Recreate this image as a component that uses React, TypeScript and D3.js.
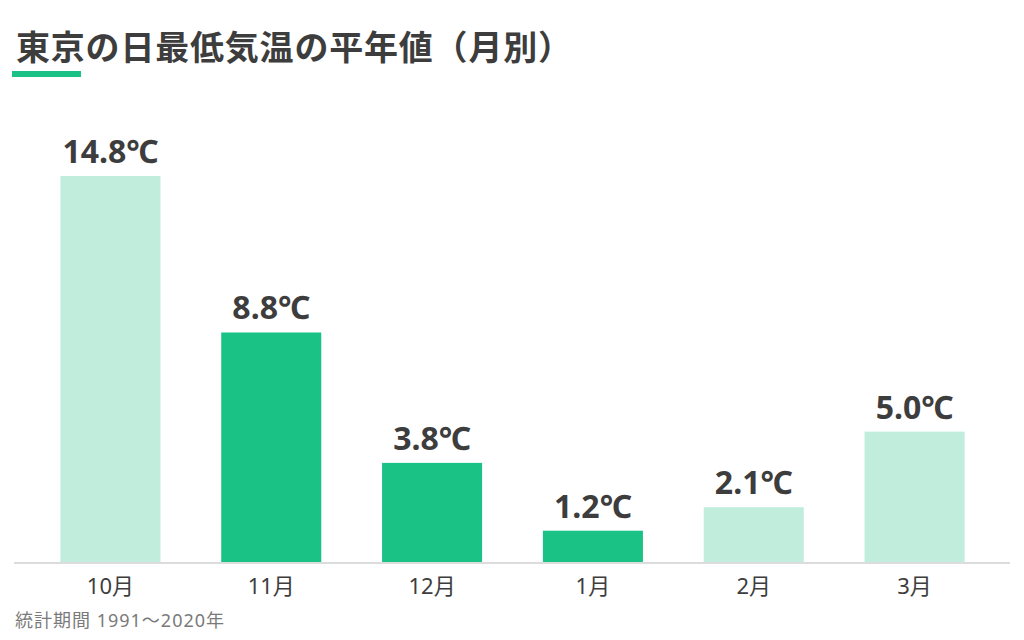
import { useEffect, useRef } from 'react';
import * as d3 from 'd3';

const months = ['10月', '11月', '12月', '1月', '2月', '3月'];
const values = [14.8, 8.8, 3.8, 1.2, 2.1, 5.0];
const highlighted = [false, true, true, true, false, false];

const title = '東京の日最低気温の平年値（月別）';
const note = '統計期間 1991〜2020年';

export default function App() {
  const svgRef = useRef<SVGSVGElement>(null);

  useEffect(() => {
    if (!svgRef.current) return;
    const svg = d3.select(svgRef.current);
    svg.selectAll('*').remove();

    const width = 1024;
    const height = 640;
    const cjk = '"Noto Sans CJK JP", sans-serif';
    const mixed = '"Noto Sans", "Noto Sans CJK JP", sans-serif';
    const baseY = 562;

    svg.attr('width', width).attr('height', height).attr('viewBox', `0 0 ${width} ${height}`);

    svg.append('rect').attr('width', width).attr('height', height).attr('fill', '#fff');

    // Title
    svg.append('text')
      .attr('x', 16)
      .attr('y', 60)
      .style('font-family', cjk)
      .style('font-size', '34px')
      .style('font-weight', '700')
      .style('letter-spacing', '0.8px')
      .attr('fill', '#3d3d3d')
      .text(title);

    svg.append('rect')
      .attr('x', 12)
      .attr('y', 71)
      .attr('width', 69)
      .attr('height', 6)
      .attr('fill', '#1bc286');

    // Scales
    const x = d3.scaleBand<string>()
      .domain(months)
      .range([30, 995])
      .paddingInner(0.378)
      .paddingOuter(0.189);

    const y = d3.scaleLinear()
      .domain([0, 14.8])
      .range([baseY, 176]);

    const data = months.map((m, i) => ({ month: m, value: values[i], hl: highlighted[i] }));

    // Bars
    svg.append('g')
      .selectAll('rect')
      .data(data)
      .enter()
      .append('rect')
      .attr('x', d => x(d.month)!)
      .attr('y', d => y(d.value))
      .attr('width', x.bandwidth())
      .attr('height', d => baseY - y(d.value))
      .attr('fill', d => (d.hl ? '#1bc286' : '#c0eddc'));

    // Value labels
    svg.append('g')
      .selectAll('text')
      .data(data)
      .enter()
      .append('text')
      .attr('x', d => x(d.month)! + x.bandwidth() / 2)
      .attr('y', d => y(d.value) - 13)
      .attr('text-anchor', 'middle')
      .style('font-family', mixed)
      .style('font-size', '32px')
      .style('font-weight', '700')
      .attr('fill', '#3d3d3d')
      .text(d => `${d.value.toFixed(1)}℃`);

    // Baseline
    svg.append('line')
      .attr('x1', 14)
      .attr('x2', 1010)
      .attr('y1', baseY + 1)
      .attr('y2', baseY + 1)
      .attr('stroke', '#dcdcdc')
      .attr('stroke-width', 2);

    // Month labels
    const xAxis = d3.axisBottom(x).tickSize(0).tickPadding(0);
    const axisG = svg.append('g')
      .attr('transform', `translate(0,${baseY})`)
      .call(xAxis);
    axisG.select('.domain').remove();
    axisG.selectAll('text')
      .attr('y', 32)
      .attr('dy', null)
      .style('font-family', mixed)
      .style('font-size', '22px')
      .attr('fill', '#3d3d3d');

    // Note
    svg.append('text')
      .attr('x', 15)
      .attr('y', 627)
      .style('font-family', mixed)
      .style('font-size', '18px')
      .style('letter-spacing', '1px')
      .attr('fill', '#7a7a7a')
      .text(note);
  }, []);

  return (
    <div style={{ margin: -8 }}>
      <svg ref={svgRef} style={{ display: 'block' }} />
    </div>
  );
}
